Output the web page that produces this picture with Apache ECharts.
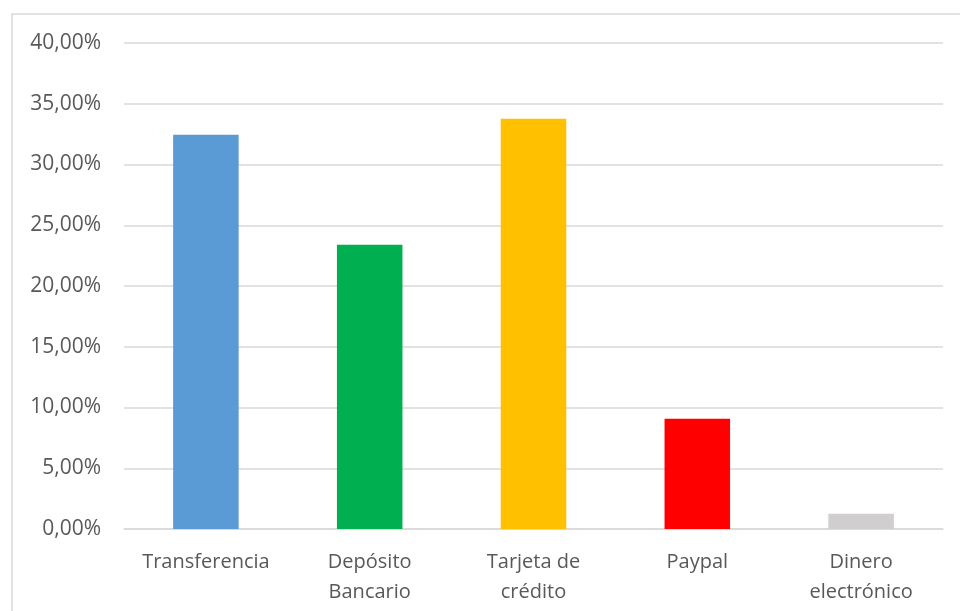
<!DOCTYPE html>
<html>
<head>
<meta charset="utf-8">
<script src="https://cdn.jsdelivr.net/npm/echarts@6/dist/echarts.min.js"></script>
<style>
  html, body { margin: 0; padding: 0; background: #fff; }
  #chart { width: 960px; height: 611px; }
</style>
</head>
<body>
<div id="chart"></div>
<script>
// Forma de pago: porcentaje por método
const categories = ['Transferencia', 'Depósito\nBancario', 'Tarjeta de\ncrédito', 'Paypal', 'Dinero\nelectrónico'];
const values = [32.45, 23.40, 33.77, 9.08, 1.26];
const barColors = ['#5B9BD5', '#00B050', '#FFC000', '#FF0000', '#D0CECE'];
const yTicks = { min: 0, max: 40, interval: 5 };

const textColor = '#595959';
const gridColor = '#D9D9D9';
const fontFamily = '"Open Sans", "Noto Sans", sans-serif';

const chart = echarts.init(document.getElementById('chart'), null, { renderer: 'canvas' });

chart.setOption({
  animation: false,
  backgroundColor: '#ffffff',
  graphic: [{
    type: 'rect',
    shape: { x: 12, y: 14, width: 1000, height: 800 },
    style: { fill: 'none', stroke: gridColor, lineWidth: 1.5 },
    silent: true
  }],
  grid: { left: 124, right: 17, top: 43, bottom: 82, containLabel: false },
  xAxis: {
    type: 'category',
    data: categories,
    axisTick: { show: false },
    axisLine: { show: true, lineStyle: { color: gridColor, width: 1.5 } },
    axisLabel: {
      color: textColor,
      fontFamily: fontFamily,
      fontSize: 20,
      lineHeight: 30,
      margin: 18,
      interval: 0
    }
  },
  yAxis: {
    type: 'value',
    min: yTicks.min,
    max: yTicks.max,
    interval: yTicks.interval,
    axisLine: { show: false },
    axisTick: { show: false },
    splitLine: { show: true, lineStyle: { color: gridColor, width: 1.5 } },
    axisLabel: {
      color: textColor,
      fontFamily: fontFamily,
      fontSize: 21,
      margin: 23,
      formatter: v => v.toFixed(2).replace('.', ',') + '%'
    }
  },
  series: [{
    type: 'bar',
    barWidth: '40%',
    data: values.map((v, i) => ({ value: v, itemStyle: { color: barColors[i] } }))
  }]
});
</script>
</body>
</html>
